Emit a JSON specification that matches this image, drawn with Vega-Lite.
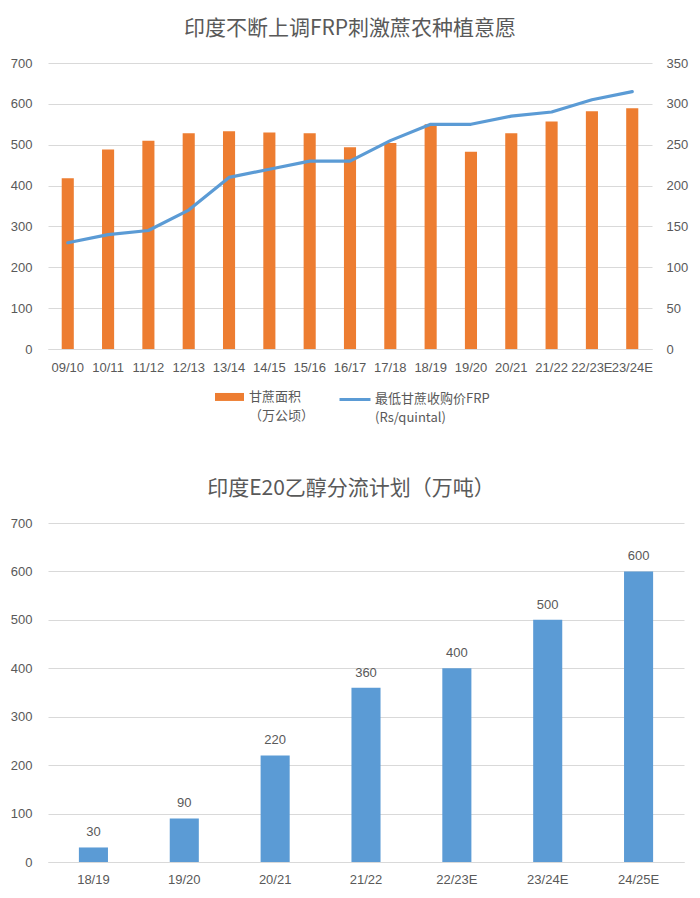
{
  "$schema": "https://vega.github.io/schema/vega-lite/v6.json",
  "background": "#ffffff",
  "padding": {"left": 10, "top": 18, "right": 5, "bottom": 5},
  "spacing": 104,
  "config": {
    "view": {"stroke": null},
    "font": "Liberation Sans, Noto Sans CJK SC, sans-serif",
    "title": {"font": "Noto Sans CJK SC", "fontSize": 21, "fontWeight": "normal", "color": "#595959", "offset": 18},
    "axis": {
      "labelFont": "Liberation Sans, Noto Sans CJK SC, sans-serif",
      "labelFontSize": 13,
      "labelColor": "#595959",
      "ticks": false,
      "title": null,
      "gridColor": "#D9D9D9",
      "gridWidth": 1,
      "domainColor": "#D9D9D9",
      "domainWidth": 1
    },
    "legend": {
      "labelFont": "Noto Sans CJK SC, Liberation Sans, sans-serif",
      "labelFontSize": 13,
      "labelColor": "#595959",
      "padding": 0
    }
  },
  "vconcat": [
    {
      "width": 604,
      "height": 286,
      "title": {"text": "印度不断上调FRP刺激蔗农种植意愿"},
      "data": {
        "values": [
          {"year": "09/10", "area": 418, "frp": 130},
          {"year": "10/11", "area": 488, "frp": 140},
          {"year": "11/12", "area": 510, "frp": 145},
          {"year": "12/13", "area": 528, "frp": 170},
          {"year": "13/14", "area": 533, "frp": 210},
          {"year": "14/15", "area": 530, "frp": 220},
          {"year": "15/16", "area": 528, "frp": 230},
          {"year": "16/17", "area": 494, "frp": 230},
          {"year": "17/18", "area": 504, "frp": 255},
          {"year": "18/19", "area": 550, "frp": 275},
          {"year": "19/20", "area": 483, "frp": 275},
          {"year": "20/21", "area": 528, "frp": 285},
          {"year": "21/22", "area": 557, "frp": 290},
          {"year": "22/23E", "area": 582, "frp": 305},
          {"year": "23/24E", "area": 589, "frp": 315}
        ]
      },
      "encoding": {
        "x": {
          "field": "year",
          "type": "nominal",
          "sort": null,
          "scale": {"paddingInner": 0.7, "paddingOuter": 0.34},
          "axis": {"labelAngle": 0, "labelPadding": 12, "domain": true, "labelOverlap": false, "labelBound": false}
        }
      },
      "layer": [
        {
          "mark": {"type": "bar"},
          "encoding": {
            "y": {
              "field": "area",
              "type": "quantitative",
              "scale": {"domain": [0, 700]},
              "axis": {"values": [0, 100, 200, 300, 400, 500, 600, 700], "grid": true, "domain": false, "labelPadding": 16}
            },
            "fill": {
              "datum": "甘蔗面积|（万公顷）",
              "type": "nominal",
              "scale": {"range": ["#ED7D31"]},
              "legend": {
                "orient": "none",
                "legendX": 167,
                "legendY": 313,
                "title": null,
                "symbolType": "M-1,0.17H1V0.72H-1Z",
                "symbolSize": 841,
                "symbolStrokeWidth": 0,
                "labelOffset": 5,
                "labelBaseline": "top",
                "labelExpr": "split(datum.label, '|')",
                "encode": {"labels": {"update": {"lineHeight": {"value": 19}}}}
              }
            }
          }
        },
        {
          "mark": {"type": "line", "strokeWidth": 3.2, "strokeCap": "round", "strokeJoin": "round"},
          "encoding": {
            "y": {
              "field": "frp",
              "type": "quantitative",
              "scale": {"domain": [0, 350]},
              "axis": {"orient": "right", "values": [0, 50, 100, 150, 200, 250, 300, 350], "grid": false, "domain": false, "labelPadding": 14}
            },
            "stroke": {
              "datum": "最低甘蔗收购价FRP|(Rs/quintal)",
              "type": "nominal",
              "scale": {"range": ["#5B9BD5"]},
              "legend": {
                "orient": "none",
                "legendX": 290,
                "legendY": 313,
                "title": null,
                "symbolType": "M-1,0.42H1",
                "symbolSize": 961,
                "symbolStrokeWidth": 3,
                "labelOffset": 3,
                "labelBaseline": "top",
                "labelExpr": "split(datum.label, '|')",
                "encode": {"labels": {"update": {"lineHeight": {"value": 19}}}}
              }
            }
          }
        }
      ],
      "resolve": {"scale": {"y": "independent"}}
    },
    {
      "width": 636,
      "height": 339,
      "title": {"text": "印度E20乙醇分流计划（万吨）", "dx": -15},
      "data": {
        "values": [
          {"year": "18/19", "volume": 30},
          {"year": "19/20", "volume": 90},
          {"year": "20/21", "volume": 220},
          {"year": "21/22", "volume": 360},
          {"year": "22/23E", "volume": 400},
          {"year": "23/24E", "volume": 500},
          {"year": "24/25E", "volume": 600}
        ]
      },
      "encoding": {
        "x": {
          "field": "year",
          "type": "nominal",
          "sort": null,
          "scale": {"paddingInner": 0.68, "paddingOuter": 0.34},
          "axis": {"labelAngle": 0, "labelPadding": 11, "domain": true}
        },
        "y": {
          "field": "volume",
          "type": "quantitative",
          "scale": {"domain": [0, 700]},
          "axis": {"values": [0, 100, 200, 300, 400, 500, 600, 700], "grid": true, "domain": false, "labelPadding": 16}
        }
      },
      "layer": [
        {"mark": {"type": "bar", "color": "#5B9BD5"}},
        {
          "mark": {"type": "text", "baseline": "bottom", "dy": -8, "fontSize": 13, "color": "#595959", "font": "Liberation Sans, sans-serif"},
          "encoding": {"text": {"field": "volume", "type": "quantitative"}}
        }
      ]
    }
  ]
}
